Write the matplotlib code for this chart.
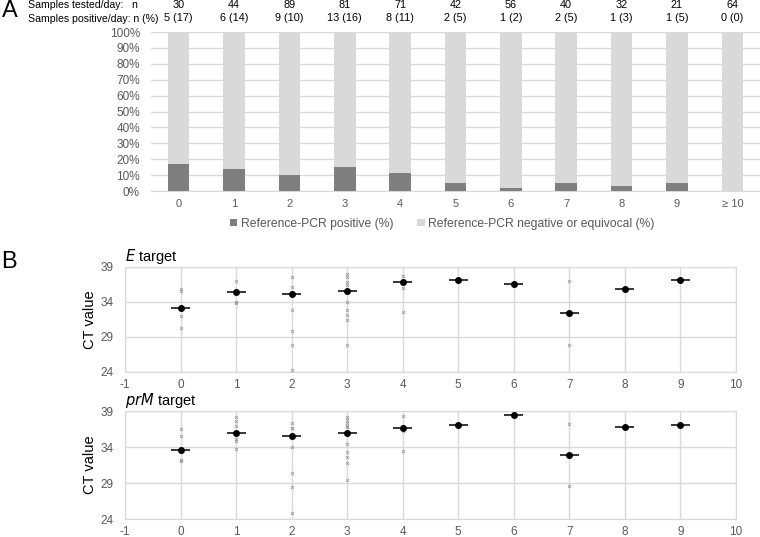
import matplotlib.pyplot as plt
import numpy as np

plt.rcParams['font.family'] = ['Liberation Sans', 'DejaVu Sans']
plt.rcParams['axes.unicode_minus'] = False

# panel A data
days = ['0', '1', '2', '3', '4', '5', '6', '7', '8', '9', '\u2265 10']
tested = [30, 44, 89, 81, 71, 42, 56, 40, 32, 21, 64]
positive_lbl = ['5 (17)', '6 (14)', '9 (10)', '13 (16)', '8 (11)', '2 (5)',
                '1 (2)', '2 (5)', '1 (3)', '1 (5)', '0 (0)']
pct_pos = [16.7, 13.6, 10.1, 15.3, 11.2, 4.8, 1.8, 5.0, 3.1, 4.8, 0.0]

# panel B data: individual CT values per day and mean per day
e_day = [0, 0, 0, 0,
         1, 1, 1,
         2, 2, 2, 2, 2, 2,
         3, 3, 3, 3, 3, 3, 3, 3, 3,
         4, 4, 4,
         7, 7]
e_ct = [35.9, 35.6, 32.0, 30.3,
        37.0, 34.0, 33.8,
        37.5, 36.1, 32.9, 29.9, 27.9, 24.3,
        38.0, 37.6, 36.8, 36.4, 34.0, 32.8, 32.1, 31.4, 27.9,
        37.7, 36.0, 32.5,
        37.0, 27.9]
e_mean_day = [0, 1, 2, 3, 4, 5, 6, 7, 8, 9]
e_mean = [33.1, 35.4, 35.15, 35.6, 36.9, 37.2, 36.6, 32.4, 35.8, 37.2]

prm_day = [0, 0, 0, 0,
           1, 1, 1, 1, 1, 1,
           2, 2, 2, 2, 2, 2, 2,
           3, 3, 3, 3, 3, 3, 3, 3, 3, 3,
           4, 4, 4, 4, 4,
           7, 7]
prm_ct = [36.5, 35.5, 32.2, 32.0,
          38.1, 37.6, 36.9, 35.1, 34.9, 33.7,
          37.3, 36.7, 36.6, 34.0, 30.4, 28.5, 24.8,
          38.1, 37.8, 37.4, 36.8, 34.4, 33.3, 32.6, 31.8, 29.4, 36.9,
          38.3, 36.9, 36.6, 36.2, 33.5,
          37.2, 28.6]
prm_mean_day = [0, 1, 2, 3, 4, 5, 6, 7, 8, 9]
prm_mean = [33.6, 35.9, 35.5, 36.0, 36.7, 37.0, 38.4, 32.9, 36.75, 37.0]

grid_c = '#d9d9d9'
tick_c = '#595959'

fig = plt.figure(figsize=(7.6, 5.37), dpi=100)

# ---------- panel A ----------
axA = fig.add_axes([0.1987, 0.6443, 0.8013, 0.2961])
x = np.arange(len(days))
neg = [100 - p for p in pct_pos]
axA.bar(x, pct_pos, width=0.39, color='#7f7f7f', label='Reference-PCR positive (%)', zorder=3)
axA.bar(x, neg, bottom=pct_pos, width=0.39, color='#d9d9d9',
        label='Reference-PCR negative or equivocal (%)', zorder=3)
axA.set_xlim(-0.5, len(days) - 0.5)
axA.set_ylim(0, 100)
axA.set_yticks(np.arange(0, 101, 10))
axA.set_yticklabels([f'{v}%' for v in range(0, 101, 10)])
axA.set_xticks(x)
axA.set_xticklabels(days)
axA.yaxis.grid(True, color=grid_c, lw=1, zorder=0)
for s in ['top', 'right', 'left']:
    axA.spines[s].set_visible(False)
axA.spines['bottom'].set_color(grid_c)
axA.tick_params(axis='both', length=0, colors=tick_c)
axA.tick_params(axis='x', pad=6, labelsize=8)
axA.tick_params(axis='y', labelsize=8.5, pad=8)
axA.legend(loc='upper center', bbox_to_anchor=(0.478, -0.1), ncol=2, frameon=False,
           fontsize=8.7, handlelength=0.6, handleheight=0.6, handletextpad=0.3,
           columnspacing=2.0, labelcolor=tick_c)

tr = axA.get_xaxis_transform()
for i in range(len(days)):
    axA.text(i, 1.170, str(tested[i]), transform=tr, ha='center', va='center', fontsize=7.8)
    axA.text(i, 1.088, positive_lbl[i], transform=tr, ha='center', va='center', fontsize=7.8)
fig.text(0.037, 1 - 5.5 / 537, 'Samples tested/day:   n', ha='left', va='center', fontsize=7.6)
fig.text(0.037, 1 - 18.5 / 537, 'Samples positive/day: n (%)', ha='left', va='center', fontsize=7.6)
fig.text(0.002, 1 - 11 / 537, 'A', ha='left', va='center', fontsize=17)

# ---------- panel B ----------
def ct_panel(rect, days_pts, ct_pts, mean_days, means, title):
    ax = fig.add_axes(rect)
    ax.scatter(days_pts, ct_pts, marker='x', s=5, color='#999999', lw=0.6, zorder=3)
    ax.errorbar(mean_days, means, xerr=0.17, fmt='o', color='black', ms=4,
                elinewidth=1.1, capsize=0, zorder=4)
    ax.set_xlim(-1, 10)
    ax.set_ylim(24, 39)
    ax.set_xticks(range(-1, 11))
    ax.set_yticks([24, 29, 34, 39])
    ax.grid(True, color=grid_c, lw=1, zorder=0)
    for s in ax.spines.values():
        s.set_color(grid_c)
    ax.tick_params(axis='both', length=0, colors=tick_c, labelsize=8.5)
    ax.tick_params(axis='x', pad=5)
    ax.tick_params(axis='y', pad=8)
    ax.set_ylabel('CT value', fontsize=10.5, labelpad=2.5)
    ax.text(0, 1.01, title, transform=ax.transAxes, ha='left', va='bottom', fontsize=10.5)
    return ax

ct_panel([0.1645, 0.3073, 0.8039, 0.1955], e_day, e_ct, e_mean_day, e_mean,
         r'$\it{E}$ target')
ct_panel([0.1645, 0.0335, 0.8039, 0.2011], prm_day, prm_ct, prm_mean_day, prm_mean,
         r'$\it{prM}$ target')
fig.text(0.002, 1 - 262 / 537, 'B', ha='left', va='center', fontsize=17)

fig.savefig('out.png', dpi=100)
